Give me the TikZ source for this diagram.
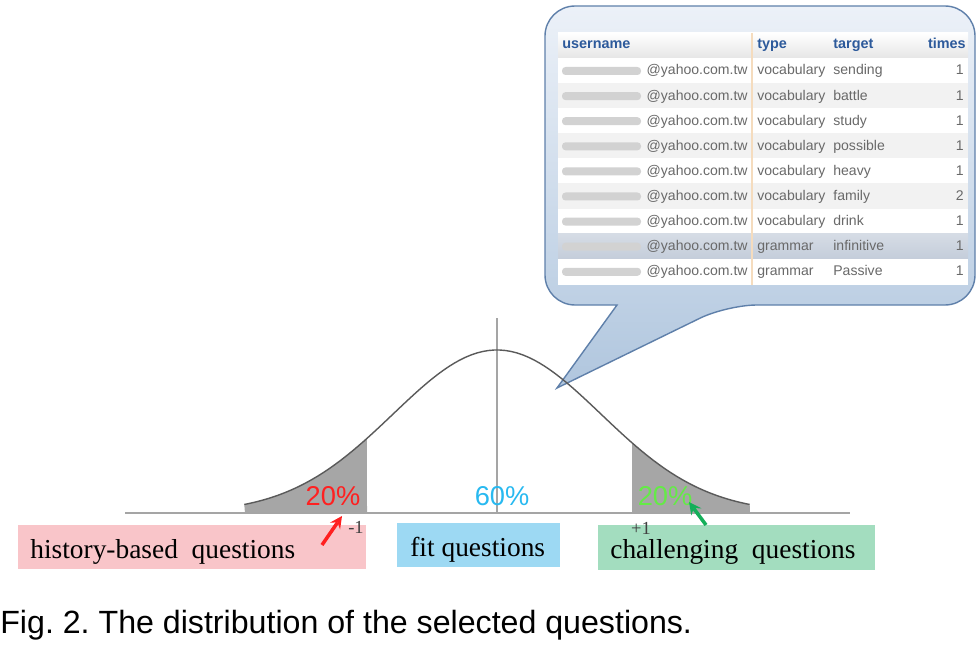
\documentclass[tikz,border=0pt]{standalone}
\usepackage{fontspec}
\setmainfont{Liberation Serif}
\setsansfont{Liberation Sans}
\usetikzlibrary{arrows,calc,positioning}
\frenchspacing

\definecolor{pinkBox}{RGB}{249,197,201}
\definecolor{cyanBox}{RGB}{157,217,243}
\definecolor{greenBox}{RGB}{163,221,191}
\definecolor{curveGray}{RGB}{90,90,90}
\definecolor{axisGray}{RGB}{165,165,165}
\definecolor{tailGray}{RGB}{166,166,166}
\definecolor{pctRed}{RGB}{255,32,32}
\definecolor{pctCyan}{RGB}{40,185,240}
\definecolor{pctGreen}{RGB}{100,235,70}
\definecolor{arrowGreen}{RGB}{20,175,90}
\definecolor{calloutTop}{RGB}{236,241,248}
\definecolor{calloutBottom}{RGB}{176,198,222}
\definecolor{calloutLine}{RGB}{95,128,170}
\definecolor{headBlue}{RGB}{45,90,155}
\definecolor{cellGray}{RGB}{105,105,105}
\definecolor{rowGray}{RGB}{242,242,242}
\definecolor{rowSel}{RGB}{196,205,218}
\definecolor{colLine}{RGB}{245,220,190}

\begin{document}
\begin{tikzpicture}[
    x=0.02cm, y=-0.02cm, >=stealth,
    % Styles
    qBox/.style={inner sep=0pt, minimum height=0.88cm},
    qText/.style={anchor=base west, inner sep=0pt, font=\fontsize{15.6}{18}\selectfont},
    pctText/.style={anchor=base, inner sep=0pt, font=\sffamily\fontsize{15.5}{18}\selectfont},
    tickText/.style={inner sep=0pt, text=black!75, font=\fontsize{10.5}{11}\selectfont},
    headText/.style={anchor=base west, inner sep=0pt, text=headBlue, font=\sffamily\bfseries\fontsize{8.2}{9}\selectfont},
    cellText/.style={anchor=base west, inner sep=0pt, text=cellGray, font=\sffamily\fontsize{8}{9}\selectfont}
]
\useasboundingbox (0,0) rectangle (978,652);

% ================= CALLOUT (speech bubble) =================
\draw[calloutLine, line width=0.8pt, top color=calloutTop, bottom color=calloutBottom]
    (617,305) [rounded corners=0.6cm] -- (545,305) -- (545,6) -- (975,6) -- (975,305)
    -- (727,305) [sharp corners] -- (557,388) -- cycle;

% table inside the bubble
\fill[white] (558,33) rectangle (968,285);
\shade[top color=white, bottom color=gray!20] (558,33) rectangle (968,58);
\foreach \kind/\word/\num [count=\r] in {vocabulary/sending/1, vocabulary/battle/1,
    vocabulary/study/1, vocabulary/possible/1, vocabulary/heavy/1, vocabulary/family/2,
    vocabulary/drink/1, grammar/infinitive/1, grammar/Passive/1}{
  \pgfmathsetmacro\ry{58+25.1*(\r-1)}
  \ifodd\r\else\fill[rowGray] (558,\ry) rectangle (968,\ry+25.1);\fi
  \ifnum\r=8\shade[top color=rowSel!70, bottom color=rowSel] (558,\ry) rectangle (968,\ry+25.1);\fi
  \fill[gray!35, rounded corners=2pt] (562,\ry+9) rectangle (641,\ry+17);
  \node[cellText, anchor=base east] (mail\r) at (748,\ry+17) {@yahoo.com.tw};
  \node[cellText] (kind\r) at (757,\ry+17) {\kind};
  \node[cellText] (word\r) at (833,\ry+17) {\word};
  \node[cellText, anchor=base east] (num\r) at (964,\ry+17) {\num};
}
\draw[colLine, line width=0.6pt] (752,33) -- (752,285);
\node[headText] (hUser) at (562,49) {username};
\node[headText] (hType) at (757,49) {type};
\node[headText] (hTarget) at (833,49) {target};
\node[headText, anchor=base east] (hTimes) at (966,49) {times};

% ================= NORMAL CURVE =================
\fill[tailGray] (245,513) -- plot[domain=-2.43:-1.25, samples=30] ({497+104*\x}, {513-163*exp(-\x*\x/2)}) -- (367,513) -- cycle;
\fill[tailGray] (632,513) -- plot[domain=1.30:2.43, samples=30] ({497+104*\x}, {513-163*exp(-\x*\x/2)}) -- (750,513) -- cycle;
\draw[axisGray, line width=0.8pt] (125,513) -- (850,513);
\draw[axisGray, line width=0.8pt] (497,318) -- (497,513);
\draw[curveGray, line width=0.8pt] plot[domain=-2.43:2.43, samples=90] ({497+104*\x}, {513-163*exp(-\x*\x/2)});

% percentages
\node[pctText, text=pctRed] (leftPct) at (333,505) {20\%};
\node[pctText, text=pctCyan] (midPct) at (502,505) {60\%};
\node[pctText, text=pctGreen] (rightPct) at (665,505) {20\%};

% ================= QUESTION BOXES =================
\node[qBox, fill=pinkBox, minimum width=6.96cm] (histBox) at (192,547) {};
\node[qBox, fill=cyanBox, minimum width=3.26cm] (fitBox) at (478.5,545) {};
\node[qBox, fill=greenBox, minimum width=5.54cm, minimum height=0.9cm] (chalBox) at (736.5,547.5) {};
\node[qText] (histText) at (30,558) {history-based\ \ questions};
\node[qText] (fitText) at (410,556) {fit questions};
\node[qText] (chalText) at (610,558) {challenging\ \ questions};

% -1 / +1 marks
\node[tickText] (minusOne) at (356,527) {-1};
\node[tickText] (plusOne) at (641,528) {+1};

% ================= ARROWS =================
\coordinate (redTail) at (322,545);
\coordinate (redTip) at (342,516);
\coordinate (greenTail) at (706,525);
\coordinate (greenTip) at (689,502);
\draw[->, pctRed, line width=2pt] (redTail) -- (redTip);
\draw[->, arrowGreen, line width=2pt] (greenTail) -- (greenTip);

% ================= CAPTION =================
\node[anchor=base west, inner sep=0pt, font=\sffamily\fontsize{18.3}{21}\selectfont] (caption) at (0,633) {Fig. 2. The distribution of the selected questions.};

\end{tikzpicture}
\end{document}
